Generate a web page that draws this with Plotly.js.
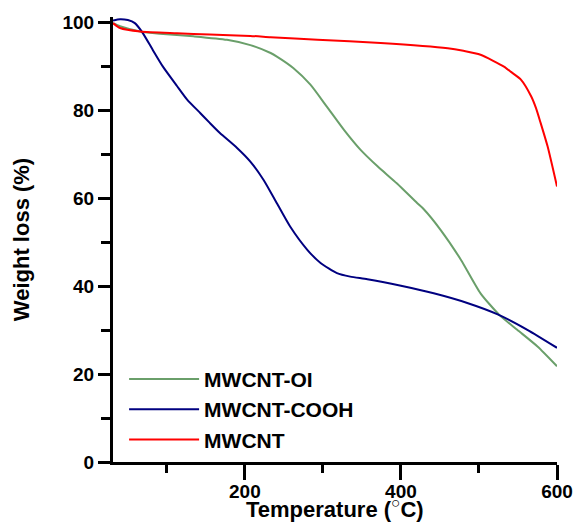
<!DOCTYPE html>
<html>
<head>
<meta charset="utf-8">
<script src="https://cdn.plot.ly/plotly-3.0.1.min.js"></script>
<style>html,body{margin:0;padding:0;background:#fff;}</style>
</head>
<body>
<div id="chart" style="width:576px;height:530px;"></div>
<script>
// MWCNT-OI (green)
const oiT = [31, 40, 66, 91, 134, 177, 207, 233, 241, 262, 284, 305, 327, 348, 370, 395, 421, 429, 451, 477, 502, 526, 549, 575, 600];
const oiW = [99.9, 99.2, 98.0, 97.5, 96.9, 96.1, 94.9, 93.1, 92.3, 89.7, 85.9, 80.9, 75.6, 71.1, 67.3, 63.4, 58.9, 57.6, 52.8, 46.0, 38.4, 33.5, 30.1, 26.3, 21.8];
// MWCNT-COOH (navy)
const coohT = [31, 40, 50, 59, 69, 82, 95, 113, 126, 143, 155, 168, 190, 207, 224, 241, 258, 280, 297, 318, 335, 357, 400, 442, 485, 524, 562, 600];
const coohW = [100.5, 100.8, 100.6, 99.9, 97.7, 93.8, 90.0, 85.6, 82.5, 79.4, 77.2, 74.9, 71.5, 68.4, 64.2, 58.9, 53.6, 48.3, 45.3, 43.0, 42.2, 41.6, 40.1, 38.4, 36.2, 33.6, 30.1, 26.0];
// MWCNT (red)
const cntT = [31, 40, 66, 113, 155, 207, 233, 293, 374, 460, 480, 502, 532, 541, 554, 567, 573, 579, 588, 600];
const cntW = [99.9, 98.8, 98.0, 97.6, 97.3, 97.0, 96.7, 96.1, 95.4, 94.2, 93.6, 92.7, 90.0, 88.8, 87.0, 83.2, 80.6, 77.2, 71.8, 62.7];

const names = ['MWCNT-OI', 'MWCNT-COOH', 'MWCNT'];
const colors = ['#6a9f6a', '#000080', '#ff0000'];
const xs = [oiT, coohT, cntT];
const ys = [oiW, coohW, cntW];

const xTitle = 'Temperature (<sup>○</sup>C)';
const yTitle = 'Weight loss (%)';

const FONT = 'Arial, "Liberation Sans", sans-serif';

const data = names.map((n, i) => ({
  x: xs[i], y: ys[i], name: n, type: 'scatter', mode: 'lines',
  line: {color: colors[i], width: 2, shape: 'spline', smoothing: 0.6, simplify: false}
}));

const layout = {
  width: 576, height: 530,
  margin: {l: 113, r: 19, t: 17, b: 68},
  paper_bgcolor: '#fff', plot_bgcolor: '#fff',
  showlegend: true,
  font: {family: FONT, color: '#000', weight: 'bold'},
  xaxis: {
    range: [31, 600], showgrid: false, zeroline: false,
    showline: true, linewidth: 3, linecolor: '#000',
    ticks: 'outside', ticklen: 15, tickwidth: 3, tickcolor: '#000',
    tickvals: [200, 400, 600], ticklabelstandoff: -5,
    tickfont: {family: FONT, size: 19, color: '#000', weight: 'bold'},
    minor: {tickvals: [100, 300, 500], ticks: 'outside', ticklen: 8, tickwidth: 3, tickcolor: '#000'},
    automargin: false
  },
  yaxis: {
    range: [0, 101.3], showgrid: false, zeroline: false,
    showline: true, linewidth: 3, linecolor: '#000',
    ticks: 'outside', ticklen: 12, tickwidth: 3, tickcolor: '#000',
    tickvals: [0, 20, 40, 60, 80, 100],
    tickfont: {family: FONT, size: 19, color: '#000', weight: 'bold'},
    minor: {tickvals: [10, 30, 50, 70, 90], ticks: 'outside', ticklen: 9, tickwidth: 3, tickcolor: '#000'},
    title: {text: yTitle, font: {family: FONT, size: 22, color: '#000', weight: 'bold'}, standoff: 27},
    automargin: false
  },
  annotations: [{
    text: xTitle, xref: 'paper', yref: 'paper', x: 0.5, y: -0.104,
    xanchor: 'center', yanchor: 'middle', showarrow: false,
    font: {family: FONT, size: 22, color: '#000', weight: 'bold'}
  }],
  legend: {
    x: 0.025, y: 0.232, xanchor: 'left', yanchor: 'top',
    bgcolor: 'rgba(0,0,0,0)', borderwidth: 0,
    itemwidth: 70,
    font: {family: FONT, size: 21, color: '#000', weight: 'bold'}
  }
};

Plotly.newPlot('chart', data, layout, {displayModeBar: false, staticPlot: true});
</script>
</body>
</html>
